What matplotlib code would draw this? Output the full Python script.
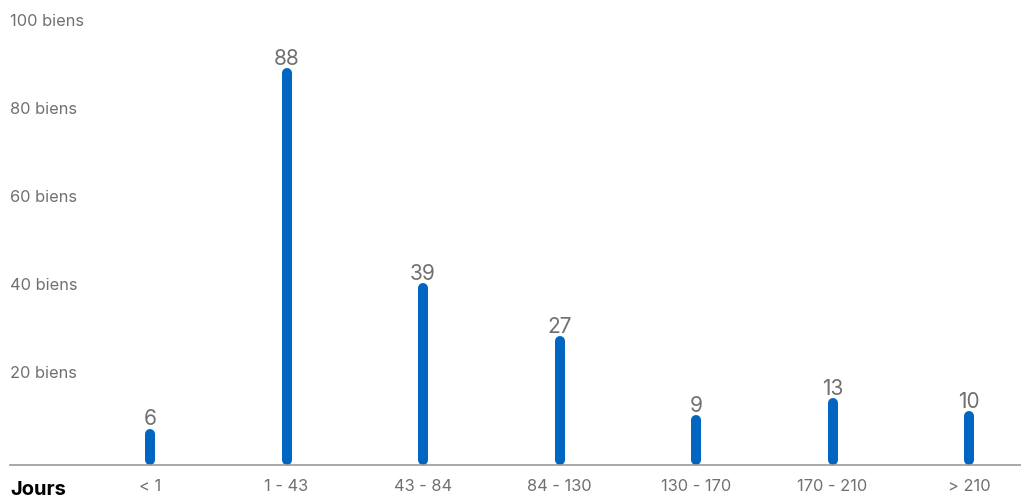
import matplotlib
matplotlib.use("Agg")
import matplotlib.pyplot as plt
import matplotlib.transforms as mtransforms

plt.rcParams['font.family'] = ['Inter', 'DejaVu Sans']

# Data
categories = ["< 1", "1 - 43", "43 - 84", "84 - 130", "130 - 170", "170 - 210", "> 210"]
values = [6, 88, 39, 27, 9, 13, 10]
y_ticks = [20, 40, 60, 80, 100]
y_tick_labels = ["20 biens", "40 biens", "60 biens", "80 biens", "100 biens"]

bar_color = "#0066c2"
text_gray = "#707070"

W, H = 1021, 501
fig = plt.figure(figsize=(W / 100, H / 100), dpi=100)

# axes spans pixel x 10..1021, y 465 (bottom) .. 0 (top)
ax = fig.add_axes([10 / W, (H - 465) / H, (W - 10) / W, 465 / H])
px_per_unit = 4.4
ax.set_ylim(-5 / px_per_unit, 100 + 20 / px_per_unit)
step = 136.5
ax.set_xlim((10 - 150) / step, (1021 - 150) / step)

x = list(range(len(categories)))
for xi, v in zip(x, values):
    ax.plot([xi, xi], [0, v], color=bar_color, linewidth=7.2, solid_capstyle="round")
    ax.annotate(str(v), xy=(xi, v), xytext=(0, 3), textcoords="offset points",
                ha="center", va="bottom", fontsize=15, color=text_gray)

# y labels at left edge
for t, lab in zip(y_ticks, y_tick_labels):
    ax.annotate(lab, xy=(0, t), xytext=(0, -1.2), textcoords="offset points",
                xycoords=mtransforms.blended_transform_factory(ax.transAxes, ax.transData),
                ha="left", va="center", fontsize=11.8, color=text_gray)

for s in ["top", "right", "left"]:
    ax.spines[s].set_visible(False)
ax.spines["bottom"].set_color("#9a9a9a")
ax.spines["bottom"].set_linewidth(1.2)
ax.set_yticks([])
ax.set_xticks(x)
ax.set_xticklabels(categories, fontsize=11.8, color=text_gray)
ax.tick_params(axis="x", length=0, pad=10)

fig.text(10 / W, 1 - 490 / H, "Jours", ha="left", va="center", fontsize=14.5,
         fontweight="bold", color="black")

fig.savefig("out.png", dpi=100)
